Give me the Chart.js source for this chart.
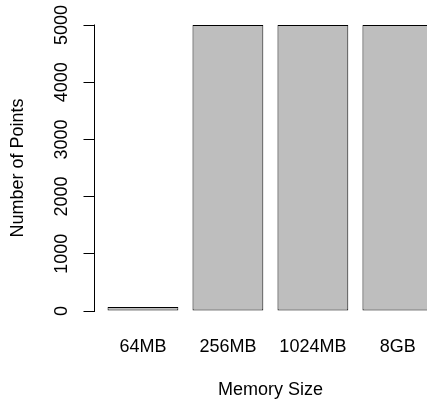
<!DOCTYPE html>
<html>
<head>
<meta charset="utf-8">
<script src="https://cdn.jsdelivr.net/npm/chart.js@4.4.0/dist/chart.umd.min.js"></script>
<style>
  html, body { margin: 0; padding: 0; background: #fff; overflow: hidden; }
  #wrap { width: 450px; height: 403px; }
</style>
</head>
<body>
<div id="wrap"><canvas id="memChart" width="450" height="403"></canvas></div>
<script>
const memoryLabels = ['64MB', '256MB', '1024MB', '8GB'];
const pointCounts = [70, 5000, 5000, 5000];
const yTicks = [0, 1000, 2000, 3000, 4000, 5000];

// barplot-style layout: unit-wide bars, 0.2 gap before each, axes padded by 4%
const barWidth = 1;
const barSpace = 0.2;
const barCenters = memoryLabels.map((_, i) => barSpace + barWidth / 2 + i * (barWidth + barSpace));
const xLo = barSpace;
const xHi = barCenters[barCenters.length - 1] + barWidth / 2;
const xPad = (xHi - xLo) * 0.04;
const yLo = yTicks[0];
const yHi = yTicks[yTicks.length - 1];
const yPad = (yHi - yLo) * 0.04;

const font = { family: '"Liberation Sans", Arial, sans-serif', size: 18 };

// y axis line only spans the tick range
const yAxisLine = {
    id: 'yAxisLine',
    afterDraw(chart) {
        const { ctx, chartArea, scales } = chart;
        const x = Math.round(chartArea.left) - 0.5;
        ctx.save();
        ctx.strokeStyle = '#000';
        ctx.lineWidth = 1;
        ctx.beginPath();
        ctx.moveTo(x, Math.round(scales.y.getPixelForValue(yLo)) + 0.5);
        ctx.lineTo(x, Math.round(scales.y.getPixelForValue(yHi)) - 0.5);
        ctx.stroke();
        ctx.restore();
    }
};

const ctx = document.getElementById('memChart').getContext('2d');

new Chart(ctx, {
    type: 'bar',
    data: {
        datasets: [{
            data: pointCounts.map((v, i) => ({ x: barCenters[i], y: v })),
            backgroundColor: '#BEBEBE',
            borderColor: '#000',
            borderWidth: 1,
            borderSkipped: false,
            categoryPercentage: barWidth / (barWidth + barSpace),
            barPercentage: 1
        }]
    },
    options: {
        responsive: false,
        animation: false,
        layout: { padding: { top: 13.56, right: 3.7, left: 0, bottom: 0 } },
        plugins: {
            legend: { display: false },
            tooltip: { enabled: false }
        },
        scales: {
            x: {
                type: 'linear',
                offset: false,
                min: xLo - xPad,
                max: xHi + xPad,
                afterBuildTicks: scale => {
                    scale.ticks = barCenters.map(v => ({ value: v }));
                },
                afterFit: scale => { scale.height = 80.56; },
                border: { display: false },
                grid: { display: false, drawTicks: false, offset: false },
                ticks: {
                    autoSkip: false,
                    maxRotation: 0,
                    padding: 13.75,
                    color: '#000',
                    font: font,
                    callback: (value, index) => memoryLabels[index]
                },
                title: {
                    display: true,
                    text: 'Memory Size',
                    color: '#000',
                    font: font,
                    padding: { top: 0, bottom: 2.5 }
                }
            },
            y: {
                min: yLo - yPad,
                max: yHi + yPad,
                afterBuildTicks: scale => {
                    scale.ticks = yTicks.map(v => ({ value: v }));
                },
                afterFit: scale => { scale.width = 94.5; },
                border: { display: false },
                grid: {
                    drawOnChartArea: false,
                    drawTicks: true,
                    tickLength: 11,
                    tickColor: '#000',
                    tickWidth: 1
                },
                ticks: {
                    minRotation: 90,
                    maxRotation: 90,
                    crossAlign: 'center',
                    padding: 1.5,
                    color: '#000',
                    font: font,
                    callback: value => String(value)
                },
                title: {
                    display: true,
                    text: 'Number of Points',
                    color: '#000',
                    font: font,
                    padding: { top: 7.2, bottom: 0 }
                }
            }
        }
    },
    plugins: [yAxisLine]
});
</script>
</body>
</html>
